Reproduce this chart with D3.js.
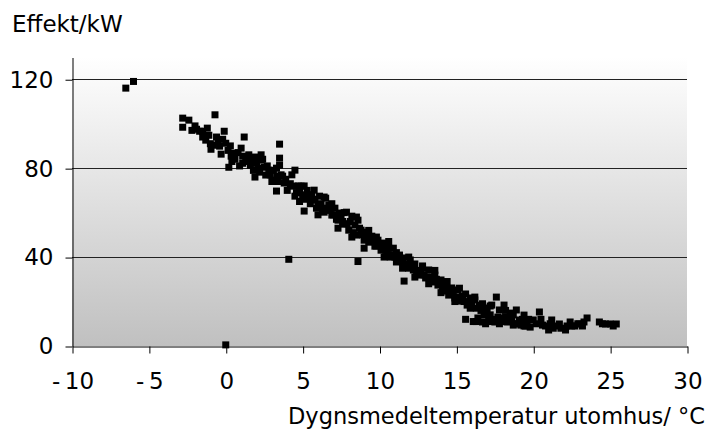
<!DOCTYPE html>
<html>
<head>
<meta charset="utf-8">
<script src="https://cdn.jsdelivr.net/npm/d3@7"></script>
<style>
  body { margin: 0; background: #fff; }
  text { font-family: "DejaVu Sans", Verdana, sans-serif; fill: #000; }
</style>
</head>
<body>
<svg id="chart" width="710" height="430"></svg>
<script>
// dygnsmedeltemperatur (°C)
var temp = [
  -6.5, -6.0, -0.7, 0.0, 4.1, 8.6,
  -2.8, -2.8, -2.4, -1.9, -1.7, -1.5, -1.5, -1.3, -1.1, -0.96, -0.8, -0.6, -0.4, -0.3,
  -0.1, 0.0, 0.15, 0.35, 0.2, 0.5, 1.2, 1.1, 1.1, 1.4, 1.6, 1.8, 1.9, 2.0, 2.2, 2.3,
  2.5, 2.6, 2.8, 3.5, 3.5, 3.5, 3.35, 3.2, 3.7, 3.8, 3.3, 4.5, 4.4, 4.5, 4.8, 4.9,
  5.1, 5.4, 5.75, 5.6, 6.0, 6.1, 6.4, 6.5, 6.7, 6.9, 7.1, 7.3, 7.4, 7.7, 7.85, 8.0,
  8.2, 8.4, 8.5, 8.6, 8.8, 9.0, 9.2, 9.3, 9.5, 9.7, 9.9, 10.1, 10.3, 10.5, 10.7, 10.9,
  11.1, 11.3, 11.5, 11.6, 11.8, 12.0, 12.2, 12.3, 12.6, 12.8, 13.0, 13.2, 13.4, 13.6,
  13.8, 14.0, 14.1, 14.3, 14.5, 14.7, 14.9, 15.1, 15.2, 15.4, 15.6, 15.7, 15.9, 16.2,
  16.4, 16.5, 16.7, 16.9, 17.1, 17.3, 17.5, 17.6, 17.8, 18.0, 18.1, 18.3, 18.5, 18.7,
  18.9, 19.1, 19.2, 19.4, 19.6, 19.8, 20.0, 20.4, 20.6, 21.0, 21.2, 21.5, 21.7, 22.1,
  22.4, 22.7, 23.0, 23.3, 23.5, 24.3, 24.7, 25.0, 25.4,
  -2.0, -1.0, -0.5, 0.3, 0.6, 0.8, 1.3, 1.5, 1.7, 2.1, 2.4, 2.7, 2.9, 3.1, 3.4, 3.6,
  3.9, 4.2, 4.6, 4.7, 5.0, 5.2, 5.3, 5.5, 5.8, 5.9, 6.2, 6.3, 6.6, 6.8, 7.0, 7.2,
  7.5, 7.6, 7.9, 8.1, 8.3, 8.7, 8.9, 9.1, 9.4, 9.6, 9.8, 10.0, 10.2, 10.4, 10.6, 10.8,
  11.0, 11.2, 11.4, 11.7, 11.9, 12.1, 12.4, 12.5, 12.7, 12.9, 13.1, 13.3, 13.5, 13.7,
  13.9, 14.2, 14.4, 14.6, 14.8, 15.0, 15.3, 15.5, 15.8, 16.0, 16.3, 16.6, 16.8, 17.0,
  17.2, 17.4, 17.7, 17.9, 18.2, 18.4, 18.6, 18.8, 19.0, 19.3, 19.5, 19.7, 20.2, 20.8,
  21.3, 21.8, 22.2, 22.9, 23.2, 24.5, 25.2, 16.1, 16.9, 17.3, 15.6, 16.3, 17.8,
  -2.2, -1.2, -0.2, 0.4, 0.9, 1.0, 1.9, 2.3, 3.0, 3.3, 4.0, 4.3, 4.8, 5.1, 5.6, 6.0,
  6.4, 6.9, 7.3, 7.7, 8.2, 8.5, 9.0, 9.3, 9.8, 10.3, 10.6, 11.1, 11.5, 11.9, 12.3, 12.8,
  13.2, 13.6, 14.0, 14.4, 14.9, 15.2, 15.9, 16.2, 16.7, 17.2, 18.2, 18.7, 19.4, 20.5,
  21.1, 22.5
];
// effekt (kW)
var effekt = [
  116, 119, 104, 0.5, 39, 38,
  98.4, 102.5, 101.6, 97.5, 96.6, 96.6, 94, 92.6, 94.8, 88.5, 90.3, 94, 89.9, 86.3,
  96.6, 91.2, 88, 85.4, 80.4, 86.7, 94, 85.4, 82.2, 84, 81.3, 79, 85, 82.2, 78.2, 83.6,
  80.4, 76.9, 79.1, 90.8, 84.5, 81.3, 76.4, 74.6, 76.4, 73.3, 69.7, 79.1, 71.9, 67.4, 70.1, 71.9,
  60.7, 67.9, 70.1, 65.6, 63.4, 67.4, 60.2, 66.5, 63.4, 58.9, 62, 56.6, 59.8, 54.8, 60.2, 52.1,
  58.4, 54.4, 49.9, 56.6, 52.1, 47.6, 51.2, 46.7, 49.4, 44.9, 47.6, 43.1, 46.3, 42.2, 40, 44,
  37.8, 40.9, 39.6, 29.2, 36.4, 38.7, 34.2, 36.9, 31.9, 35.1, 30.6, 34.2, 28.8, 31.9,
  27.4, 29.7, 24.7, 27.4, 22.9, 26.1, 21.6, 25.2, 20.2, 22.5, 23.4, 18.4, 21.6, 20.7,
  12.6, 18.4, 10.8, 17.1, 11.7, 18.4, 10.8, 22, 16.2, 12.6, 18.4, 10.8, 14.8, 9.4,
  16.2, 11.7, 9.4, 13.9, 10.8, 8.5, 11.7, 15.3, 9.4, 7.2, 11.7, 9, 9.9, 7.2,
  10.8, 9, 9.9, 10.8, 12.6, 10.8, 9.9, 9.9, 9.9,
  99, 91, 92, 90, 84, 87, 83, 86, 83, 80, 84, 81, 77, 79, 74, 77,
  75, 73, 69, 72, 68, 66, 70, 64, 66, 62, 64, 61, 62, 61, 59, 57,
  57, 56, 55, 56, 51, 53, 50, 49, 48, 47, 45, 46, 44, 43, 44, 41,
  40, 38, 38, 37, 35, 36, 34, 33, 33, 32, 31, 31, 29, 30,
  28, 26, 25, 24, 24, 22, 21, 20, 19, 19, 17, 16, 14, 16,
  14, 12, 13, 11, 13, 11, 12, 10, 10, 12, 9, 12, 10, 9,
  8, 8, 9, 10, 9, 10, 9, 11, 10, 11, 12, 11, 10,
  97, 98, 93, 83, 81, 89, 76, 86, 74, 80, 70, 77, 65, 72, 68, 59,
  67, 64, 53, 60, 49, 58, 44, 52, 49, 40, 47, 42, 35, 40, 31, 36,
  28, 34, 24, 29, 20, 26, 17, 22, 19, 18, 16, 14, 9, 12,
  10, 9
];
var xTicks = [-10, -5, 0, 5, 10, 15, 20, 25, 30];
var yTicks = [0, 40, 80, 120];

(function () {
  var svg = d3.select('#chart');
  var m = { left: 72, right: 687, top: 57, bottom: 346 };
  var fs = '23px';
  var ff = '"DejaVu Sans", Verdana, sans-serif';

  var x = d3.scaleLinear().domain([-10, 30]).range([m.left, m.right]);
  var y = d3.scaleLinear().domain([0, 130]).range([m.bottom, m.top]);

  // bakgrund med gradient
  var grad = svg.append('defs').append('linearGradient')
    .attr('id', 'bg').attr('x1', 0).attr('y1', 0).attr('x2', 0).attr('y2', 1);
  grad.append('stop').attr('offset', '0%').attr('stop-color', '#ffffff');
  grad.append('stop').attr('offset', '100%').attr('stop-color', '#c0c0c0');

  svg.append('rect')
    .attr('x', m.left).attr('y', m.top)
    .attr('width', m.right - m.left).attr('height', m.bottom - m.top)
    .attr('fill', 'url(#bg)');

  // rutnät
  svg.append('g').selectAll('line')
    .data(yTicks.filter(function (d) { return d > 0; }))
    .enter().append('line')
    .attr('x1', m.left).attr('x2', m.right)
    .attr('y1', function (d) { return Math.round(y(d)) + 0.5; })
    .attr('y2', function (d) { return Math.round(y(d)) + 0.5; })
    .attr('stroke', '#222').attr('stroke-width', 1);

  // axlar
  var yAxis = d3.axisLeft(y).tickValues(yTicks).tickSize(7).tickPadding(12)
    .tickSizeOuter(0).tickFormat(d3.format('d'));
  var gy = svg.append('g').attr('transform', 'translate(' + (m.left + 0.5) + ',0.5)').call(yAxis);
  gy.select('.domain').attr('stroke', '#000');
  gy.selectAll('.tick line').attr('stroke', '#000');
  gy.selectAll('text').style('font-size', fs).attr('fill', '#000').style('font-family', ff);

  var xAxis = d3.axisBottom(x).tickValues(xTicks).tickSize(7).tickPadding(19)
    .tickSizeOuter(0)
    .tickFormat(function (d) { return d < 0 ? '-\u2009' + Math.abs(d) : d; });
  var gx = svg.append('g').attr('transform', 'translate(0.5,' + (m.bottom + 0.5) + ')').call(xAxis);
  gx.select('.domain').attr('stroke', '#000');
  gx.selectAll('.tick line').attr('stroke', '#000');
  gx.selectAll('text').style('font-size', fs).attr('fill', '#000').style('font-family', ff);

  // punkter
  var pts = temp.map(function (t, i) { return [t, effekt[i]]; });
  svg.append('g').selectAll('rect')
    .data(pts)
    .enter().append('rect')
    .attr('x', function (d) { return x(d[0]) - 3.5; })
    .attr('y', function (d) { return y(d[1]) - 3.5; })
    .attr('width', 7).attr('height', 7)
    .attr('fill', '#000');

  // titlar
  svg.append('text').attr('x', 12).attr('y', 32)
    .style('font-size', fs).text('Effekt/kW');
  svg.append('text').attr('x', 705).attr('y', 424)
    .attr('text-anchor', 'end')
    .style('font-size', '22.5px').text('Dygnsmedeltemperatur utomhus/ °C');
})();
</script>
</body>
</html>
